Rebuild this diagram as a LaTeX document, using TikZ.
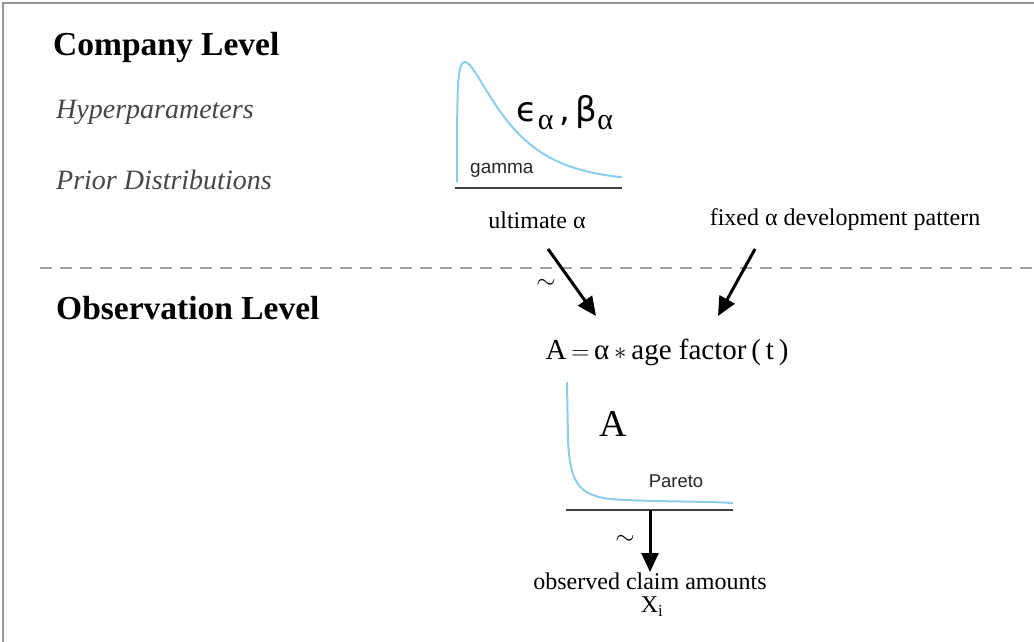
\documentclass[tikz,border=0pt]{standalone}
\usepackage{fontspec}
\setmainfont{Liberation Serif}
\newfontfamily\sansf{Liberation Sans}
\newfontfamily\greekf{DejaVu Sans}
\usetikzlibrary{arrows.meta}
\definecolor{curveblue}{RGB}{140,205,235}
\definecolor{framegray}{RGB}{150,150,150}
\definecolor{dashgray}{RGB}{160,160,160}
\definecolor{labelgray}{RGB}{70,70,70}
\newcommand{\subal}{\raisebox{-8pt}{\rmfamily\fontsize{30}{32}\selectfont α}}
\begin{document}
\begin{tikzpicture}[x=1pt,y=-1pt,
  level/.style={font=\fontsize{33.5}{38}\selectfont\bfseries, anchor=west, inner sep=0},
  ital/.style={font=\fontsize{28}{32}\selectfont\itshape, text=labelgray, anchor=west, inner sep=0},
  lbl/.style={font=\fontsize{24}{28}\selectfont, inner sep=0},
  sanslbl/.style={font=\sansf\fontsize{19}{22}\selectfont, inner sep=0, text=black!85},
  curve/.style={curveblue, line width=2pt},
  base/.style={line width=1.8pt, black!75},
  arr/.style={-{Triangle[length=19pt,width=17pt]}, line width=3pt}]
\useasboundingbox (0,0) rectangle (1034,642);
\draw[framegray, line width=1.5pt] (3,642) -- (3,3) -- (1034,3);

% level titles
\node[level] (company) at (53,47) {Company Level};
\node[ital] (hyper) at (56,112) {Hyperparameters};
\node[ital] (prior) at (56,180) {Prior Distributions};
\node[level] (obs) at (56,308) {Observation Level};

% separator
\draw[dashgray, line width=2pt, dash pattern=on 12pt off 8pt] (40,268) -- (1034,268);

% gamma prior
\draw[curve, line join=round] (457,182) -- plot[domain=0.0005:1, samples=220, smooth]
  ({457+165*\x}, {182-120*exp(0.19*ln(\x/0.048))*exp(-(\x-0.048)/0.25)});
\draw[base] (455,188) -- (622,188);
\node[sanslbl, anchor=west] (gammalbl) at (470,170) {gamma};
\node[font=\greekf\fontsize{34}{38}\selectfont, inner sep=0] (hyp) at (565,113) {ϵ\subal\,,\,β\subal};

% labels
\node[lbl] (ult) at (537,220) {ultimate α};
\node[lbl] (fixed) at (845,220) {fixed α development pattern};

% equation
\node[font=\fontsize{29}{33}\selectfont, inner sep=0] (eq) at (667,352) {A\,$=$\,α\,$\ast$\,age factor\,(\,t\,)};

\coordinate (a1s) at (548,249);
\coordinate (a1e) at (596,316);
\coordinate (a2s) at (755,249);
\coordinate (a2e) at (718,316);
\draw[arr] (a1s) -- (a1e);
\draw[arr] (a2s) -- (a2e);
\node[lbl] (tilde1) at (546,284) {$\sim$};

% Pareto
\draw[curve] (567,382) -- (568,440) .. controls (570,482) and (578,495) .. (610,499)
  .. controls (650,502) and (700,501) .. (733,503);
\draw[base] (566,510) -- (733,510);
\node[font=\fontsize{38}{42}\selectfont, inner sep=0] (Alab) at (613,424) {A};
\node[sanslbl, font=\sansf\fontsize{18.5}{21}\selectfont] (pareto) at (676,481) {Pareto};

\coordinate (a3s) at (650,510);
\node[lbl] (obsclaims) at (650,581) {observed claim amounts};
\node[lbl] (xi) at (652,607) {X\textsubscript{i}};
\coordinate (a3e) at (650,572);
\draw[arr] (a3s) -- (a3e);
\node[lbl] (tilde2) at (625,540) {$\sim$};
\end{tikzpicture}
\end{document}
